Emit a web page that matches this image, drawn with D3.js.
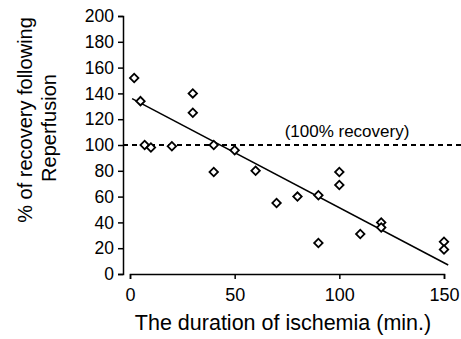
<!DOCTYPE html>
<html>
<head>
<meta charset="utf-8">
<script src="https://cdn.jsdelivr.net/npm/d3@7/dist/d3.min.js"></script>
<style>
  body { margin: 0; background: #fff; }
  svg text { font-family: "Liberation Sans", Arial, sans-serif; fill: #000; }
</style>
</head>
<body>
<svg id="chart" width="461" height="339"></svg>
<script>
'use strict';

// ischemia duration (min.) and % recovery
var durations = [2, 5, 7, 10, 20, 30, 30, 40, 40, 50, 60, 70, 80, 90, 90, 100, 100, 110, 120, 120, 150, 150];
var recovery  = [152, 134, 100, 98, 99, 140, 125, 100, 79, 96, 80, 55, 60, 61, 24, 79, 69, 31, 40, 36, 25, 19];

// ends of the fitted line
var fitX = [1, 152];
var fitY = [136, 7];

var xTicks = [0, 50, 100, 150];
var yTicks = [0, 20, 40, 60, 80, 100, 120, 140, 160, 180, 200];
var refValue = 100;
var refLabel = "(100% recovery)";

var svg = d3.select("#chart");

var x = d3.scaleLinear().domain([0, 150]).range([130, 444]);
var y = d3.scaleLinear().domain([0, 200]).range([274, 16]);

// axes, y axis offset slightly left of x = 0
var xAxis = svg.append("g")
  .attr("transform", "translate(0,274)")
  .call(d3.axisBottom(x).tickValues(xTicks).tickSize(5).tickSizeOuter(5).tickPadding(9));

var yAxis = svg.append("g")
  .attr("transform", "translate(123,0)")
  .call(d3.axisLeft(y).tickValues(yTicks).tickSize(5).tickSizeOuter(5).tickPadding(4));

xAxis.selectAll("text").style("font-size", "18px");
yAxis.selectAll("text").style("font-size", "17.5px");
svg.selectAll(".domain, .tick line").attr("stroke", "#000").attr("stroke-width", 1.5);

// reference line at 100%
svg.append("line")
  .attr("x1", 123)
  .attr("x2", 461)
  .attr("y1", y(refValue))
  .attr("y2", y(refValue))
  .attr("stroke", "#000")
  .attr("stroke-width", 2)
  .attr("stroke-dasharray", "5,4");

svg.append("text")
  .attr("x", 347)
  .attr("y", y(refValue) - 8)
  .attr("text-anchor", "middle")
  .style("font-size", "17px")
  .text(refLabel);

// fitted line
svg.append("line")
  .attr("x1", x(fitX[0]))
  .attr("y1", y(fitY[0]))
  .attr("x2", x(fitX[1]))
  .attr("y2", y(fitY[1]))
  .attr("stroke", "#000")
  .attr("stroke-width", 1.5);

// diamonds
var diamond = d3.symbol().type(d3.symbolSquare).size(36);

svg.selectAll(".pt")
  .data(d3.zip(durations, recovery))
  .enter().append("path")
  .attr("class", "pt")
  .attr("d", diamond)
  .attr("transform", function(d) {
    return "translate(" + x(d[0]) + "," + y(d[1]) + ") rotate(45)";
  })
  .attr("fill", "#fff")
  .attr("stroke", "#000")
  .attr("stroke-width", 1.8);

// axis titles
svg.append("text")
  .attr("x", 283)
  .attr("y", 330)
  .attr("text-anchor", "middle")
  .style("font-size", "21.5px")
  .text("The duration of ischemia (min.)");

svg.append("text")
  .attr("transform", "translate(32,120) rotate(-90)")
  .attr("text-anchor", "middle")
  .style("font-size", "20px")
  .text("% of recovery following");

svg.append("text")
  .attr("transform", "translate(56,128) rotate(-90)")
  .attr("text-anchor", "middle")
  .style("font-size", "20px")
  .text("Reperfusion");
</script>
</body>
</html>
